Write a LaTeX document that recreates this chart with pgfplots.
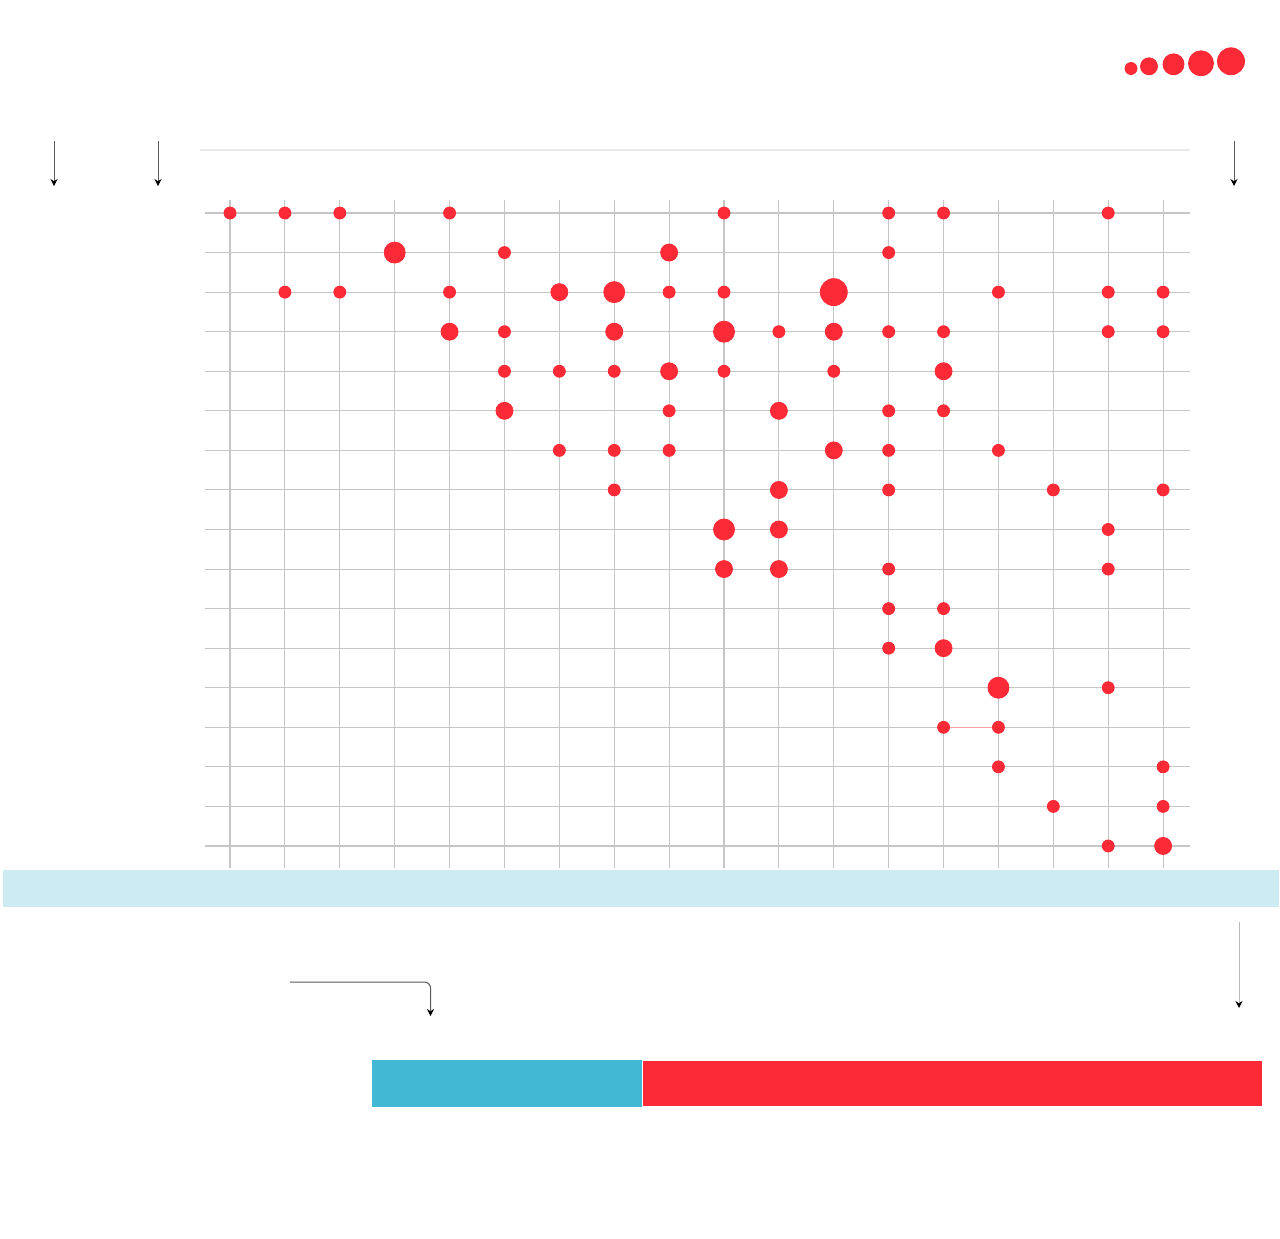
\documentclass[border=0pt]{standalone}
\usepackage{pgfplots}
\pgfplotsset{compat=1.18}
\usetikzlibrary{arrows.meta}

\definecolor{bubred}{RGB}{252,41,54}
\definecolor{bandblue}{RGB}{204,235,243}
\definecolor{barcyan}{RGB}{66,184,213}
\definecolor{gridgray}{RGB}{198,198,198}

% bubbles: column, row (0 = top row)
\pgfplotstableread{
c r
0 0
1 0
2 0
4 0
9 0
12 0
13 0
16 0
5 1
12 1
1 2
2 2
4 2
8 2
9 2
14 2
16 2
17 2
5 3
10 3
12 3
13 3
16 3
17 3
5 4
6 4
7 4
9 4
11 4
8 5
12 5
13 5
6 6
7 6
8 6
12 6
14 6
7 7
12 7
15 7
17 7
16 8
12 9
16 9
12 10
13 10
12 11
16 12
13 13
14 13
14 14
17 14
15 15
17 15
16 16
}\sizeone

\pgfplotstableread{
c r
8 1
6 2
4 3
7 3
11 3
8 4
13 4
5 5
10 5
11 6
10 7
10 8
9 9
10 9
13 11
17 16
}\sizetwo

\pgfplotstableread{
c r
3 1
7 2
9 3
9 8
14 12
}\sizethree

\pgfplotstableread{
c r
11 2
}\sizefive

\begin{document}
\begin{tikzpicture}
\tikzset{arr/.style={draw=gray!70!black, line width=0.5pt,
  -{Stealth[length=3.5pt,width=3.5pt,black]}}}

% page frame in pixel units (1 px = 0.5 pt)
\begin{axis}[at={(0,0)}, anchor=south west, scale only axis,
    width=640pt, height=619pt,
    xmin=0, xmax=1280, ymin=0, ymax=1238, y dir=reverse,
    hide axis, clip=false]
\fill[white] (rel axis cs:0,0) rectangle (rel axis cs:1,1);
% top rule
\addplot[draw=gray!18, line width=1pt] coordinates {(200,150) (1190,150)};
% light band under the grid
\addplot[fill=bandblue, draw=none] coordinates {(3,870) (1279,870) (1279,907) (3,907)} -- cycle;
% size legend
\addplot[only marks, mark=*, color=bubred, mark size=3pt] coordinates {(1131,68.5)};
\addplot[only marks, mark=*, color=bubred, mark size=4.25pt] coordinates {(1149,66.3)};
\addplot[only marks, mark=*, color=bubred, mark size=5.25pt] coordinates {(1173.5,64.3)};
\addplot[only marks, mark=*, color=bubred, mark size=6.25pt] coordinates {(1201,63.3)};
\addplot[only marks, mark=*, color=bubred, mark size=6.75pt] coordinates {(1231,61.3)};
% pointer arrows
\draw[arr] (axis cs:54,141) -- (axis cs:54,186);
\draw[arr] (axis cs:158,141) -- (axis cs:158,186);
\draw[arr] (axis cs:1234,141) -- (axis cs:1234,186);
\draw[arr, draw=gray!55] (axis cs:1239,922) -- (axis cs:1239,1008);
\draw[arr, rounded corners=3pt] (axis cs:290,982) -- (axis cs:430.5,982) -- (axis cs:430.5,1016);
\end{axis}

% bubble grid
\begin{axis}[at={(102.5pt,185pt)}, anchor=south west, scale only axis,
    width=492.5pt, height=334pt,
    xmin=-0.456, xmax=17.49, ymin=-0.329, ymax=16.557, y dir=reverse,
    xtick={0,...,17}, ytick={0,...,16},
    xticklabels={}, yticklabels={},
    major tick length=0pt,
    axis line style={draw=none},
    grid=major,
    grid style={draw=gridgray, line width=0.55pt},
    clip=false]
\addplot[draw=bubred!45, line width=0.5pt] coordinates {(13,13) (14,13)};
\addplot[only marks, mark=*, color=bubred, mark size=3pt] table[x=c, y=r] {\sizeone};
\addplot[only marks, mark=*, color=bubred, mark size=4.25pt] table[x=c, y=r] {\sizetwo};
\addplot[only marks, mark=*, color=bubred, mark size=5.25pt] table[x=c, y=r] {\sizethree};
\addplot[only marks, mark=*, color=bubred, mark size=6.75pt] table[x=c, y=r] {\sizefive};
\end{axis}

% split bar at the bottom
\begin{axis}[at={(186pt,65.5pt)}, anchor=south west, scale only axis,
    width=445.5pt, height=23.5pt,
    xbar stacked, bar width=23.5pt,
    xmin=0, xmax=100, ymin=-0.5, ymax=0.5,
    hide axis, clip=false]
\addplot[fill=barcyan, draw=none] coordinates {(30.3,0)};
\addplot[fill=bubred, draw=white, line width=0.7pt] coordinates {(69.7,0)};
\end{axis}
\end{tikzpicture}
\end{document}
